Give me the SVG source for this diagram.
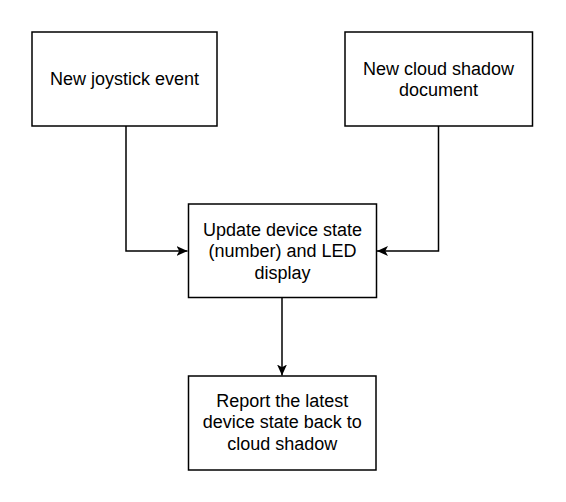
<svg xmlns="http://www.w3.org/2000/svg" width="566" height="502" viewBox="0 0 566 502">
<style>
.box{fill:#fff;stroke:#000;stroke-width:1.5}
.edge{fill:none;stroke:#000;stroke-width:1.5}
text{font-family:"Liberation Sans",Arial,Helvetica,sans-serif;font-size:18px;fill:#000;text-anchor:middle}
</style>
<defs>
<marker id="arr" viewBox="0 0 10 10" refX="10" refY="5" markerWidth="11" markerHeight="11" markerUnits="userSpaceOnUse" orient="auto">
<path d="M0,0.5 L10,5 L0,9.5 L2.5,5 Z" fill="#000"/>
</marker>
</defs>
<rect width="566" height="502" fill="#fff"/>
<g id="connectors">
<path class="edge" d="M126,126 V251 H187.5" marker-end="url(#arr)"/>
<path class="edge" d="M438.5,126 V251 H377" marker-end="url(#arr)"/>
<path class="edge" d="M282,297.5 V375.5" marker-end="url(#arr)"/>
</g>
<g id="node-joystick">
<rect class="box" x="32" y="32" width="185" height="94"/>
<text x="124.5" y="85">New joystick event</text>
</g>
<g id="node-cloud">
<rect class="box" x="345" y="32" width="187.5" height="94"/>
<text x="438.5" y="74.5">New cloud shadow</text>
<text x="438.5" y="96.2">document</text>
</g>
<g id="node-update">
<rect class="box" x="188.5" y="204" width="188" height="93.5"/>
<text x="282.5" y="235.6">Update device state</text>
<text x="282.5" y="257.3">(number) and LED</text>
<text x="282.5" y="279">display</text>
</g>
<g id="node-report">
<rect class="box" x="188.5" y="376" width="187.5" height="94"/>
<text x="282.3" y="406.5">Report the latest</text>
<text x="282.3" y="428.2">device state back to</text>
<text x="282.3" y="450">cloud shadow</text>
</g>
</svg>
